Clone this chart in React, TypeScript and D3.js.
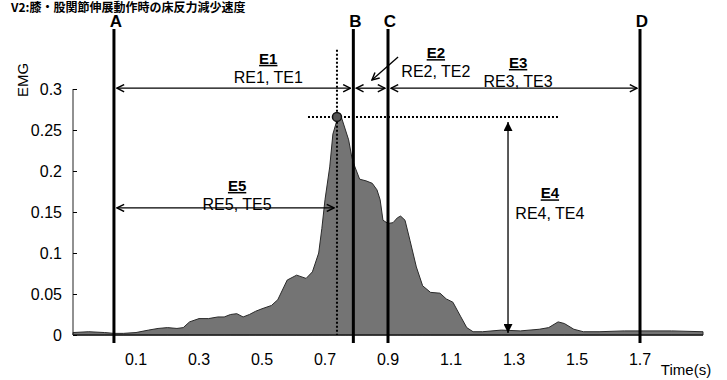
import React, { useEffect, useRef } from 'react';
import * as d3 from 'd3';

// EMG envelope
const title = 'V2:膝・股関節伸展動作時の床反力減少速度';
const times = [-0.1, -0.05, 0, 0.03, 0.06, 0.1, 0.14, 0.17, 0.2, 0.23, 0.25, 0.27, 0.3, 0.33, 0.36, 0.38, 0.4, 0.42, 0.44, 0.46, 0.48, 0.5, 0.53, 0.55, 0.58, 0.61, 0.64, 0.66, 0.68, 0.69, 0.7, 0.715, 0.725, 0.738, 0.75, 0.765, 0.775, 0.785, 0.795, 0.81, 0.83, 0.85, 0.865, 0.875, 0.884, 0.9, 0.916, 0.93, 0.94, 0.954, 0.97, 0.99, 1.01, 1.035, 1.065, 1.085, 1.106, 1.13, 1.15, 1.17, 1.2, 1.26, 1.32, 1.38, 1.41, 1.44, 1.46, 1.49, 1.52, 1.57, 1.65, 1.7, 1.8, 1.9];
const emg = [0.003, 0.004, 0.003, 0.002, 0.002, 0.003, 0.006, 0.008, 0.009, 0.008, 0.009, 0.016, 0.02, 0.02, 0.022, 0.022, 0.025, 0.026, 0.022, 0.025, 0.029, 0.032, 0.036, 0.043, 0.067, 0.073, 0.069, 0.077, 0.1, 0.13, 0.165, 0.205, 0.245, 0.262, 0.268, 0.25, 0.238, 0.217, 0.205, 0.19, 0.188, 0.185, 0.177, 0.165, 0.14, 0.136, 0.137, 0.143, 0.145, 0.14, 0.115, 0.083, 0.06, 0.052, 0.051, 0.044, 0.04, 0.023, 0.009, 0.004, 0.004, 0.006, 0.005, 0.007, 0.009, 0.016, 0.014, 0.007, 0.004, 0.004, 0.005, 0.005, 0.005, 0.004];
const yTicks = [0, 0.05, 0.1, 0.15, 0.2, 0.25, 0.3];
const xTickLabels = [0.1, 0.3, 0.5, 0.7, 0.9, 1.1, 1.3, 1.5, 1.7];
const eventNames = ['A', 'B', 'C', 'D'];
const eventTimes = [0.03, 0.79, 0.9, 1.7];
const peak = { t: 0.738, v: 0.266 };

// annotations, in data units
const spanNames = ['E1', 'E2', 'E3', 'E5'];
const spanTexts = ['RE1, TE1', 'RE2, TE2', 'RE3, TE3', 'RE5, TE5'];
const spanFrom = [0.03, 0.79, 0.9, 0.03];
const spanTo = [0.79, 0.9, 1.7, peak.t];
const spanLevel = [0.301, 0.301, 0.301, 0.155];
const spanLabelT = [0.52, 1.052, 1.313, 0.421];
const spanLabelV = [0.338, 0.345, 0.333, 0.183];

const W = 727;
const H = 380;
const FONT = '"Liberation Sans", Arial, sans-serif';

export default function App() {
  const ref = useRef<SVGSVGElement>(null);

  useEffect(() => {
    const svg = d3.select(ref.current);
    svg.selectAll('*').remove();

    const x = d3.scaleLinear().domain([-0.1, 1.9]).range([73, 703]);
    const y = d3.scaleLinear().domain([0, 0.3]).range([335, 89]);
    const data = times.map((t, i) => [t, emg[i]] as [number, number]);

    const defs = svg.append('defs');
    defs.append('marker')
      .attr('id', 'chev').attr('viewBox', '0 0 10 10')
      .attr('refX', 9).attr('refY', 5)
      .attr('markerWidth', 9).attr('markerHeight', 9)
      .attr('markerUnits', 'userSpaceOnUse')
      .attr('orient', 'auto-start-reverse')
      .append('path').attr('d', 'M1,1 L9,5 L1,9')
      .attr('fill', 'none').attr('stroke', '#000').attr('stroke-width', 1.6);
    defs.append('marker')
      .attr('id', 'tri').attr('viewBox', '0 0 10 10')
      .attr('refX', 10).attr('refY', 5)
      .attr('markerWidth', 11).attr('markerHeight', 9)
      .attr('markerUnits', 'userSpaceOnUse')
      .attr('orient', 'auto-start-reverse')
      .append('path').attr('d', 'M0,0 L10,5 L0,10 Z').attr('fill', '#000');

    // title at the very top edge, as in the scan
    svg.append('text')
      .attr('x', 11).attr('y', 12)
      .attr('font-size', 12).attr('font-weight', 'bold')
      .attr('font-family', '"Noto Sans CJK JP", sans-serif')
      .text(title);

    // EMG area
    const area = d3.area<[number, number]>()
      .x(d => x(d[0])).y0(y(0)).y1(d => y(d[1]));
    svg.append('path').datum(data)
      .attr('d', area)
      .attr('fill', '#747474')
      .attr('stroke', '#2a2a2a').attr('stroke-width', 1);

    svg.append('line')
      .attr('x1', x(-0.1)).attr('x2', x(1.9))
      .attr('y1', y(0)).attr('y2', y(0))
      .attr('stroke', '#222').attr('stroke-width', 1.5);

    // y axis
    const yAxis = d3.axisLeft(y).tickValues(yTicks).tickSize(-4).tickPadding(11)
      .tickFormat(d => String(d));
    svg.append('g')
      .attr('transform', `translate(${x(-0.1)},0)`)
      .call(yAxis)
      .call(g => g.select('.domain').attr('stroke', '#222').attr('d', `M0,${y(0.3)}V${y(0)}`))
      .call(g => g.selectAll('text').attr('font-size', 16).attr('font-family', FONT).attr('fill', '#000'));

    // x labels (no ticks in the original)
    svg.append('g').selectAll('text').data(xTickLabels).join('text')
      .attr('x', d => x(d)).attr('y', 365)
      .attr('text-anchor', 'middle')
      .attr('font-size', 16).attr('font-family', FONT)
      .text(d => String(d));

    svg.append('text')
      .attr('x', 686).attr('y', 375).attr('text-anchor', 'middle')
      .attr('font-size', 15).attr('font-family', FONT)
      .text('Time(s)');

    svg.append('text')
      .attr('transform', `translate(28,${y(0.311)}) rotate(-90)`)
      .attr('text-anchor', 'middle')
      .attr('font-size', 15).attr('font-family', FONT)
      .text('EMG');

    // event lines
    const ev = svg.append('g');
    eventTimes.forEach((t, i) => {
      ev.append('line')
        .attr('x1', x(t)).attr('x2', x(t))
        .attr('y1', 29).attr('y2', 343)
        .attr('stroke', '#000').attr('stroke-width', 3);
      ev.append('text')
        .attr('x', x(t) + 2).attr('y', 26.5)
        .attr('text-anchor', 'middle')
        .attr('font-size', 17).attr('font-weight', 'bold').attr('font-family', FONT)
        .text(eventNames[i]);
    });

    // peak guides
    svg.append('line')
      .attr('x1', x(peak.t)).attr('x2', x(peak.t))
      .attr('y1', y(0.348)).attr('y2', y(0))
      .attr('stroke', '#000').attr('stroke-width', 2).attr('stroke-dasharray', '2,2');
    svg.append('line')
      .attr('x1', x(0.646)).attr('x2', x(1.44))
      .attr('y1', y(peak.v)).attr('y2', y(peak.v))
      .attr('stroke', '#000').attr('stroke-width', 2).attr('stroke-dasharray', '2,2');
    svg.append('circle')
      .attr('cx', x(peak.t)).attr('cy', y(peak.v)).attr('r', 4.5)
      .attr('fill', '#555').attr('stroke', '#111').attr('stroke-width', 1.5);

    // horizontal spans
    const sp = svg.append('g');
    spanNames.forEach((name, i) => {
      sp.append('line')
        .attr('x1', x(spanFrom[i]) + 3).attr('x2', x(spanTo[i]) - 3)
        .attr('y1', y(spanLevel[i])).attr('y2', y(spanLevel[i]))
        .attr('stroke', '#000').attr('stroke-width', 1.3)
        .attr('marker-start', 'url(#chev)').attr('marker-end', 'url(#chev)');
      const lx = x(spanLabelT[i]);
      const ly = y(spanLabelV[i]);
      sp.append('text')
        .attr('x', lx).attr('y', ly + 6).attr('text-anchor', 'middle')
        .attr('font-size', 15).attr('font-weight', 'bold').attr('font-family', FONT)
        .attr('text-decoration', 'underline')
        .text(name);
      sp.append('text')
        .attr('x', lx).attr('y', ly + 25).attr('text-anchor', 'middle')
        .attr('font-size', 16).attr('font-family', FONT)
        .text(spanTexts[i]);
    });

    // E2 pointer
    svg.append('line')
      .attr('x1', x(0.932)).attr('y1', y(0.339))
      .attr('x2', x(0.849)).attr('y2', y(0.311))
      .attr('stroke', '#000').attr('stroke-width', 1.3)
      .attr('marker-end', 'url(#chev)');

    // E4 vertical
    const e4t = 1.281;
    svg.append('line')
      .attr('x1', x(e4t)).attr('x2', x(e4t))
      .attr('y1', y(peak.v) + 5).attr('y2', y(0) - 2)
      .attr('stroke', '#000').attr('stroke-width', 1.3)
      .attr('marker-start', 'url(#tri)').attr('marker-end', 'url(#tri)');
    svg.append('text')
      .attr('x', x(1.414)).attr('y', y(0.174) + 6).attr('text-anchor', 'middle')
      .attr('font-size', 15).attr('font-weight', 'bold').attr('font-family', FONT)
      .attr('text-decoration', 'underline')
      .text('E4');
    svg.append('text')
      .attr('x', x(1.414)).attr('y', y(0.174) + 27).attr('text-anchor', 'middle')
      .attr('font-size', 16).attr('font-family', FONT)
      .text('RE4, TE4');
  }, []);

  return (
    <svg ref={ref} width={W} height={H}
      style={{ position: 'absolute', left: 0, top: 0, background: '#fff' }} />
  );
}
